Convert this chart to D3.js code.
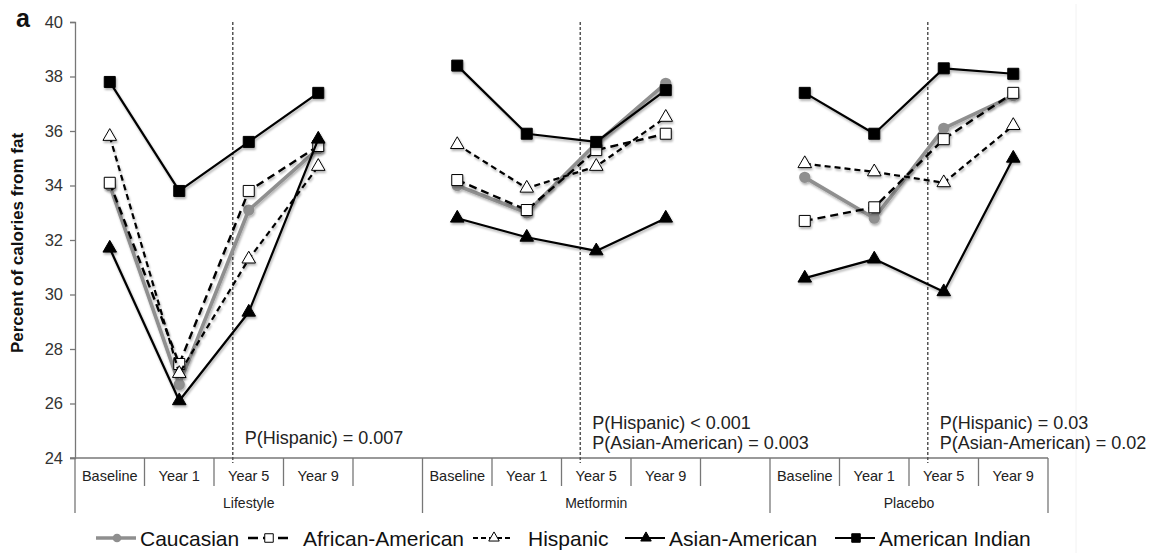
<!DOCTYPE html>
<html><head><meta charset="utf-8">
<script src="https://cdn.jsdelivr.net/npm/d3@7"></script>
<style>body{margin:0;background:#fff} text{font-family:Arial,"Liberation Sans",sans-serif}</style>
</head><body><svg id="c" width="1163" height="553"></svg>
<script>
// ---------- data ----------
const groups = ["Lifestyle", "Metformin", "Placebo"];
const timepoints = ["Baseline", "Year 1", "Year 5", "Year 9"];
const blankSlot = [true, true, false];           // empty category after Year 9
const yTicks = [24, 26, 28, 30, 32, 34, 36, 38, 40];
const seriesNames = ["Caucasian", "African-American", "Hispanic", "Asian-American", "American Indian"];
// values ordered Lifestyle(B,Y1,Y5,Y9), Metformin(...), Placebo(...)
const caucasian       = [34.0, 26.7, 33.1, 35.35,  34.0, 33.0, 35.55, 37.75,  34.3, 32.8, 36.1, 37.3];
const africanAmerican = [34.1, 27.45, 33.8, 35.45, 34.2, 33.1, 35.3, 35.9,    32.7, 33.2, 35.7, 37.4];
const hispanic        = [35.8, 27.1, 31.3, 34.7,   35.5, 33.9, 34.7, 36.5,    34.8, 34.5, 34.1, 36.2];
const asianAmerican   = [31.7, 26.1, 29.35, 35.7,  32.8, 32.1, 31.6, 32.8,    30.6, 31.3, 30.1, 35.0];
const americanIndian  = [37.8, 33.8, 35.6, 37.4,   38.4, 35.9, 35.6, 37.5,    37.4, 35.9, 38.3, 38.1];
const pNotes = [["P(Hispanic) = 0.007"], ["P(Hispanic) < 0.001", "P(Asian-American) = 0.003"], ["P(Hispanic) = 0.03", "P(Asian-American) = 0.02"]];
const yTitle = "Percent of calories from fat";
const panelLetter = "a";

// ---------- styles ----------
const seriesValues = [caucasian, africanAmerican, hispanic, asianAmerican, americanIndian];
const styles = [
  {stroke: "#8f8f8f", width: 3.6, dash: null, shape: d3.symbolCircle, size: 100, fill: "#8f8f8f", mstroke: "none"},
  {stroke: "#000", width: 2.4, dash: "8,5", shape: d3.symbolSquare, size: 121, fill: "#fff", mstroke: "#000"},
  {stroke: "#000", width: 2.2, dash: "6,4", shape: d3.symbolTriangle, size: 80, fill: "#fff", mstroke: "#000"},
  {stroke: "#000", width: 2.2, dash: null, shape: d3.symbolTriangle, size: 80, fill: "#000", mstroke: "#000"},
  {stroke: "#000", width: 2.2, dash: null, shape: d3.symbolSquare, size: 121, fill: "#000", mstroke: "#000"}
];

// ---------- layout ----------
const svg = d3.select("#c");
const X0 = 75, X1 = 1048, Y0 = 458, Y1 = 22;

const categories = [];
groups.forEach((g, gi) => {
  timepoints.forEach(t => categories.push({group: g, label: t, key: g + "|" + t}));
  if (blankSlot[gi]) categories.push({group: g, label: "", key: g + "|blank"});
});

const x = d3.scaleBand().domain(categories.map(c => c.key)).range([X0, X1]).padding(0);
const y = d3.scaleLinear().domain([24, 40]).range([Y0, Y1]);
const bw = x.bandwidth();

const defs = svg.append("defs");
const f = defs.append("filter").attr("id", "sh").attr("x", "-50%").attr("y", "-50%").attr("width", "200%").attr("height", "200%");
f.append("feDropShadow").attr("dx", 1).attr("dy", 2).attr("stdDeviation", 1.2).attr("flood-color", "#000").attr("flood-opacity", 0.3);

// faint chart-area border
svg.append("line").attr("x1", 1076).attr("x2", 1076).attr("y1", 4).attr("y2", 553)
  .attr("stroke", "#f2f2f2").attr("stroke-width", 1);

// y axis
const yAxis = d3.axisLeft(y).tickValues(yTicks).tickSize(5).tickPadding(7).tickFormat(d3.format("d"));
const ya = svg.append("g").attr("transform", `translate(${X0},0)`).call(yAxis);
ya.select(".domain").attr("stroke", "#777").attr("stroke-width", 1.3);
ya.selectAll(".tick line").attr("stroke", "#777").attr("stroke-width", 1.3);
ya.selectAll(".tick text").attr("font-size", 16.5).attr("fill", "#333").attr("font-family", "Arial, 'Liberation Sans', sans-serif");

// extend y axis line down through the category axis
svg.append("line").attr("x1", X0).attr("x2", X0).attr("y1", Y0).attr("y2", 513).attr("stroke", "#777").attr("stroke-width", 1.3);

// x category axis
const xa = svg.append("g");
xa.append("line").attr("x1", X0 - 5).attr("x2", X1).attr("y1", Y0).attr("y2", Y0).attr("stroke", "#777").attr("stroke-width", 1.3);
categories.forEach((c, i) => {
  const xs = x(c.key);
  const isGroupEnd = (i === categories.length - 1) || categories[i + 1].group !== c.group;
  xa.append("line").attr("x1", xs + bw).attr("x2", xs + bw).attr("y1", Y0)
    .attr("y2", isGroupEnd ? 513 : 486).attr("stroke", "#777").attr("stroke-width", 1.3);
  if (c.label) xa.append("text").attr("x", xs + bw / 2).attr("y", 481).attr("text-anchor", "middle")
    .attr("font-size", 14.5).attr("fill", "#222").text(c.label);
});
groups.forEach(g => {
  const ks = categories.filter(c => c.group === g);
  const gx0 = x(ks[0].key), gx1 = x(ks[ks.length - 1].key) + bw;
  xa.append("text").attr("x", (gx0 + gx1) / 2).attr("y", 508).attr("text-anchor", "middle")
    .attr("font-size", 14).attr("fill", "#222").text(g);
});

// dashed reference lines within Year 5
const dashX = groups.map(g => x(g + "|Year 5") + 0.27 * bw);
dashX.forEach(dx => {
  svg.append("line").attr("x1", dx).attr("x2", dx).attr("y1", y(40)).attr("y2", 463)
    .attr("stroke", "#555").attr("stroke-width", 1.5).attr("stroke-dasharray", "3,2");
});

// p-value notes
pNotes.forEach((lines, gi) => {
  lines.forEach((t, li) => {
    const yy = lines.length === 1 ? 444 : 449 - (lines.length - 1 - li) * 20;
    svg.append("text").attr("x", dashX[gi] + 12).attr("y", yy).attr("font-size", 18).attr("fill", "#222").text(t);
  });
});

// series
const line = d3.line().x(d => d.x).y(d => d.y);
seriesValues.forEach((vals, si) => {
  const st = styles[si];
  const g = svg.append("g").attr("filter", "url(#sh)");
  groups.forEach((grp, gi) => {
    const pts = timepoints.map((t, ti) => ({x: x(grp + "|" + t) + bw / 2, y: y(vals[gi * timepoints.length + ti])}));
    g.append("path").attr("d", line(pts)).attr("fill", "none").attr("stroke", st.stroke)
      .attr("stroke-width", st.width).attr("stroke-dasharray", st.dash).attr("stroke-linejoin", "round");
    g.selectAll(null).data(pts).enter().append("path")
      .attr("d", d3.symbol().type(st.shape).size(st.size))
      .attr("transform", d => `translate(${d.x},${d.y})`)
      .attr("fill", st.fill).attr("stroke", st.mstroke).attr("stroke-width", 1);
  });
});

// y title
svg.append("text").attr("transform", "translate(23,243) rotate(-90)").attr("text-anchor", "middle")
  .attr("font-size", 17).attr("font-weight", "bold").attr("fill", "#111").text(yTitle);
// panel letter
svg.append("text").attr("x", 16).attr("y", 27).attr("font-size", 25).attr("font-weight", "bold").attr("fill", "#111").text(panelLetter);

// legend
const legX = [96, 248, 473, 625, 835];
const legY = 538;
seriesNames.forEach((n, i) => {
  const st = styles[i];
  const lg = svg.append("g").attr("transform", `translate(${legX[i]},${legY})`);
  lg.append("line").attr("x1", 0).attr("x2", 40).attr("y1", 0).attr("y2", 0).attr("stroke", st.stroke)
    .attr("stroke-width", st.width).attr("stroke-dasharray", st.dash ? (i === 1 ? "10,5" : "5,3") : null);
  lg.append("path").attr("d", d3.symbol().type(st.shape).size(st.size * 0.6)).attr("transform", "translate(21,0)")
    .attr("fill", st.fill).attr("stroke", st.mstroke).attr("stroke-width", 1);
  lg.append("text").attr("x", i === 1 || i === 2 ? 55 : 44).attr("y", 7.5).attr("font-size", 21).attr("fill", "#111").text(n);
});
</script></body></html>
